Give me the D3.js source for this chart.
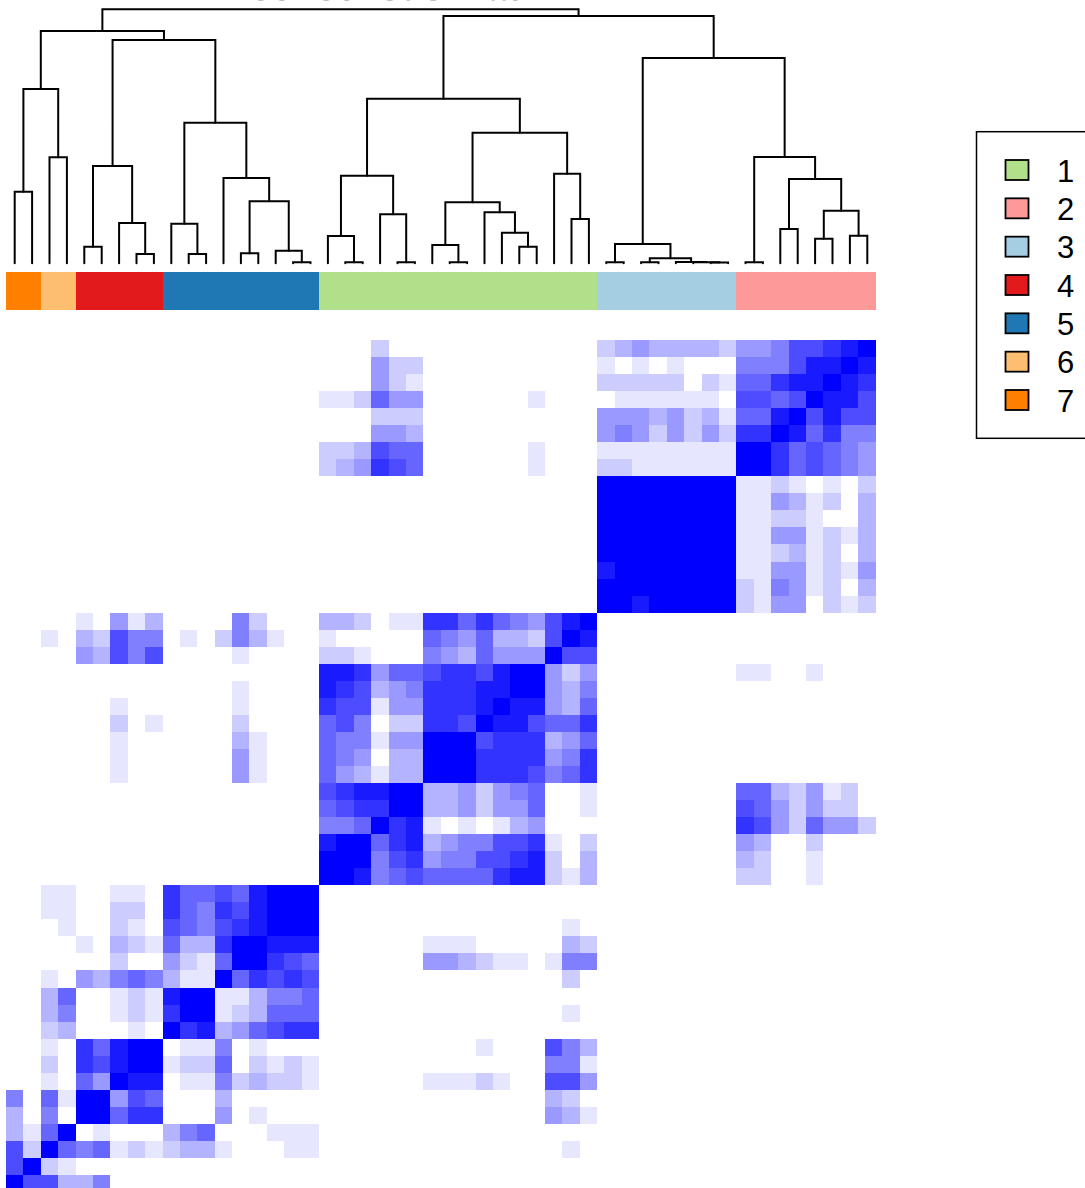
<!DOCTYPE html>
<html>

<head>
  <script src="https://d3js.org/d3.v7.min.js"></script>
  <style>
    html, body {
      margin: 0;
      padding: 0;
      background: white;
      overflow: hidden;
    }

    svg {
      display: block;
    }

    text {
      font-family: "Liberation Sans", Arial, sans-serif;
    }
  </style>
</head>

<body>
  <div id="chart"></div>
</body>

<script>
  // Cluster annotation, left to right along the columns
  var columnGroups = ["7", "6", "4", "5", "1", "3", "2"];
  var groupSizes = [2, 2, 5, 9, 16, 8, 8];

  // Legend
  var legendLabels = ["1", "2", "3", "4", "5", "6", "7"];
  var legendColors = ["#B2DF8A", "#FB9A99", "#A6CEE3", "#E31A1C", "#1F78B4", "#FDBF6F", "#FF7F00"];

  var title = "consensus matrix";

  // Consensus in tenths, top row first (a = 10). Blocks are the clusters in column order.
  var consensusRows = [
    "00 00 00000 000000000 0002000000000000 23433332 4457789a",
    "00 00 00000 000000000 0004220000000000 10101000 555799a9",
    "00 00 00000 000000000 0004210000000000 22222021 66899a98",
    "00 00 00000 000000000 1126440000001000 01111110 7767a997",
    "00 00 00000 000000000 0002220000000000 44434231 669a7977",
    "00 00 00000 000000000 0004430000000000 45424242 88a96855",
    "00 00 00000 000000000 2237660000001000 11111111 aa867654",
    "00 00 00000 000000000 2348760000001000 22111111 aa867654",
    "00 00 00000 000000000 0000000000000000 aaaaaaaa 11210102",
    "00 00 00000 000000000 0000000000000000 aaaaaaaa 11431203",
    "00 00 00000 000000000 0000000000000000 aaaaaaaa 11221003",
    "00 00 00000 000000000 0000000000000000 aaaaaaaa 11441213",
    "00 00 00000 000000000 0000000000000000 aaaaaaaa 11231203",
    "00 00 00000 000000000 0000000000000000 9aaaaaaa 11441214",
    "00 00 00000 000000000 0000000000000000 aaaaaaaa 21541203",
    "00 00 00000 000000000 0000000000000000 aa9aaaaa 21440212",
    "00 00 10413 000052000 332011886865479a 00000000 00000000",
    "00 10 32755 010253100 10000065463327a9 00000000 00000000",
    "00 00 43757 000010000 2210005436444a77 00000000 00000000",
    "00 00 00000 000000000 99846678879aa424 00000000 11001000",
    "00 00 00000 000010000 98734588899aa435 00000000 00000000",
    "00 00 00100 000010000 8771448889a99436 00000000 00000000",
    "00 00 00201 000020000 675022887a997668 00000000 00000000",
    "00 00 00100 000031000 655144aaa7888346 00000000 00000000",
    "00 00 00100 000041000 654033aaa8888458 00000000 00000000",
    "00 00 00100 000041000 643133aaa8887568 00000000 00000000",
    "00 00 00000 000000000 7899aa3342456001 00000000 66324120",
    "00 00 00000 000000000 6788aa3342446001 00000000 76424220",
    "00 00 00000 000000000 556a891010134000 00000000 87426442",
    "00 00 00000 000000000 9aa6893455778102 00000000 43002000",
    "00 00 00000 000000000 aaa5784557789203 00000000 32001000",
    "00 00 00000 000000000 aa95676666899213 00000000 22001000",
    "00 11 00110 866769aaa 0000000000000000 00000000 00000000",
    "00 11 00220 865879aaa 0000000000000000 00000000 00000000",
    "00 01 00210 765789aaa 0000000000000010 00000000 00000000",
    "00 00 10321 6338aa999 0000001110000032 00000000 00000000",
    "00 00 00200 4216aa876 0000004432110155 00000000 00000000",
    "00 10 43565 311a68787 0000000000000020 00000000 00000000",
    "00 36 00121 9aa113556 0000000000000000 00000000 00000000",
    "00 35 00121 8aa123666 0000000000000010 00000000 00000000",
    "00 23 00010 a89346788 0000000000000000 00000000 00000000",
    "00 10 869aa 011501000 0000000001000753 00000000 00000000",
    "00 20 879aa 122602121 0000000000000551 00000000 00000000",
    "00 10 64a99 011523221 0000001112100774 00000000 00000000",
    "50 61 aa476 000300000 0000000000000320 00000000 00000000",
    "30 50 aa688 000401000 0000000000000431 00000000 00000000",
    "31 6a 01000 356000111 0000000000000000 00000000 00000000",
    "72 a6 56121 233100011 0000000000000010 00000000 00000000",
    "7a 21 00000 000000000 0000000000000000 00000000 00000000",
    "a7 73 35000 000000000 0000000000000000 00000000 00000000"
  ];

  // Dendrogram, hclust style: negative = leaf number, positive = earlier merge
  var mergeLeft = [-17, -20, -23, -26, -35, -37, -41, -40, -39, 6, 5, -43, -47, -49, 13, -45, 16, 12, 11,
    -30, -29, -28, -25, 23, -33, -32, 24, -19, -22, 28, 30, 31,
    -1, -3, 33, -5, -8, -7, 36, -11, -10, -14, -16, 42, -13, 41, 39, 35, 48];
  var mergeRight = [-18, -21, -24, -27, -36, -38, -42, 7, 8, 9, 10, -44, -48, -50, 14, -46, 15, 17, 18,
    -31, 20, 21, 4, 22, -34, 25, 26, 2, 3, 29, 27, 19,
    -2, -4, 34, -6, -9, 37, 38, -12, 40, -15, 1, 43, 44, 45, 46, 47, 32];
  var mergeHeight = [0.002, 0.002, 0.002, 0.002, 0.002, 0.002, 0.001, 0.003, 0.005, 0.042, 0.185, 0.002, 0.238, 0.268, 0.518, 0.335, 0.835, 1.055, 2.045,
    0.158, 0.298, 0.502, 0.175, 0.602, 0.435, 0.888, 1.298, 0.265, 0.482, 0.868, 1.638, 2.465,
    0.708, 1.052, 1.735, 0.158, 0.085, 0.395, 0.965, 0.085, 0.388, 0.092, 0.118, 0.612, 0.845, 1.398, 2.225, 2.315, 2.532];

  var width = 1085,
      height = 1188;

  var cells = consensusRows.map(function(row) {
    return row.replace(/ /g, "").split("").map(function(c) {
      return parseInt(c, 16) / 10;
    });
  });
  var n = cells.length;
  var indices = d3.range(n);

  var svg = d3.select("#chart").append("svg")
    .attr("width", width).attr("height", height);

  var x = d3.scaleBand().domain(indices).range([6, 875.5]);
  var leafX = d3.scaleBand().domain(indices).range([6, 876]);
  var y = d3.scaleBand().domain(indices).range([340, 1192]);
  var color = d3.scaleLinear().domain([0, 1]).range(["#FFFFFF", "#0000FF"]);
  var h = d3.scaleLinear().domain([0, 2.532]).range([262.5, 9.3]);

  // Title, cut off by the top edge of the picture
  svg.append("text")
    .attr("x", 250).attr("y", 0.1)
    .style("font-size", "37px").style("font-weight", "bold")
    .style("text-rendering", "geometricPrecision")
    .text(title);

  // Heatmap
  var heat = svg.append("g").attr("shape-rendering", "crispEdges");
  cells.forEach(function(row, r) {
    row.forEach(function(v, c) {
      heat.append("rect")
        .attr("x", x(c)).attr("y", y(r))
        .attr("width", x.bandwidth()).attr("height", y.bandwidth())
        .style("fill", color(v));
    });
  });

  // Annotation bar
  var legendColor = d3.scaleOrdinal().domain(legendLabels).range(legendColors);
  var bar = svg.append("g").attr("shape-rendering", "crispEdges");
  var start = 0;
  columnGroups.forEach(function(g, i) {
    bar.append("rect")
      .attr("x", x(start)).attr("y", 272)
      .attr("width", x.bandwidth() * groupSizes[i]).attr("height", 38)
      .style("fill", legendColor(g));
    start += groupSizes[i];
  });

  // Dendrogram
  var tree = svg.append("g")
    .style("fill", "none").style("stroke", "black")
    .style("stroke-width", 2).style("stroke-linecap", "round");

  var nodes = [];

  function nodeOf(id) {
    if (id < 0) {
      return { x: leafX(-id - 1) + leafX.bandwidth() / 2, y: h(0) + 0.8 };
    }
    return nodes[id - 1];
  }

  mergeHeight.forEach(function(mh, i) {
    var a = nodeOf(mergeLeft[i]),
        b = nodeOf(mergeRight[i]),
        top = h(mh);
    tree.append("path")
      .attr("d", "M" + a.x + "," + a.y + "V" + top + "H" + b.x + "V" + b.y);
    nodes.push({ x: (a.x + b.x) / 2, y: top });
  });

  // Legend
  var legendY = d3.scalePoint().domain(legendLabels).range([170, 400]);

  svg.append("rect")
    .attr("x", 976.5).attr("y", 131.7)
    .attr("width", 130).attr("height", 306.6)
    .style("fill", "none").style("stroke", "black").style("stroke-width", 1.5);

  legendLabels.forEach(function(d) {
    svg.append("rect")
      .attr("x", 1005.5).attr("y", legendY(d) - 10)
      .attr("width", 23).attr("height", 20)
      .style("fill", legendColor(d)).style("stroke", "black").style("stroke-width", 1.8);
    svg.append("text")
      .attr("x", 1057).attr("y", legendY(d) + 11.5)
      .style("font-size", "31px")
      .text(d);
  });
</script>

</html>
